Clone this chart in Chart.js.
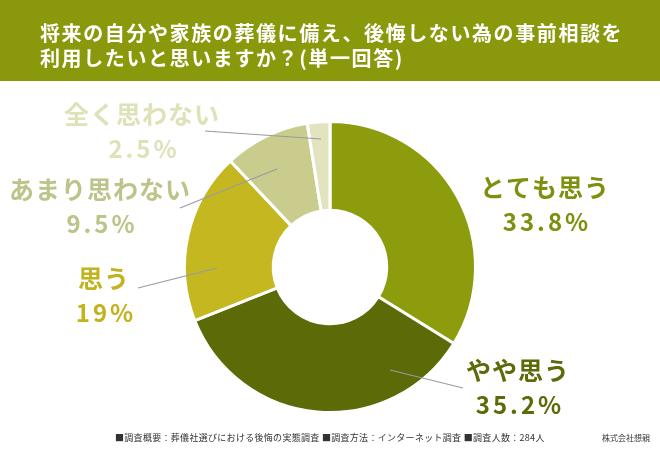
<!DOCTYPE html>
<html>
<head>
<meta charset="utf-8">
<script src="https://cdn.jsdelivr.net/npm/chart.js@4"></script>
<style>
  html, body { margin: 0; padding: 0; background: #fff; }
  #wrap { width: 660px; height: 450px; position: relative; }
</style>
</head>
<body>
<div id="wrap"><canvas id="myChart" width="660" height="450"></canvas></div>
<script>
// 回答の選択肢
let answers = ['とても思う', 'やや思う', '思う', 'あまり思わない', '全く思わない'];
// 割合 (%)
let shares = [33.8, 35.2, 19, 9.5, 2.5];
// 扇形の色
let sliceColors = ['#8c9c0c', '#5c6a08', '#c5b71f', '#c9cc8c', '#e2e4bf'];
// ラベル文字の色
let labelColors = ['#7f8f0e', '#5c6a08', '#c2b21e', '#bdc389', '#dfe1b9'];

let titleLines = ['将来の自分や家族の葬儀に備え、後悔しない為の事前相談を', '利用したいと思いますか？(単一回答)'];
let footNote = '■調査概要：葬儀社選びにおける後悔の実態調査 ■調査方法：インターネット調査 ■調査人数：284人';
let company = '株式会社想親';

// ラベルの位置と引き出し線 (文字の中心, 線の始点, 線の終点)
let labelLayout = [
  { x: 545, y: 187, line: null },
  { x: 518, y: 370, line: [463, 388, 390, 370] },
  { x: 104, y: 278, line: [138, 288, 217, 268] },
  { x: 100, y: 189, line: [180, 208, 277, 169] },
  { x: 142, y: 114, line: [205, 131, 321, 139] }
];

const FONT = '"Noto Sans CJK JP", "Noto Sans", sans-serif';

let decor = {
  id: 'decor',
  beforeDraw(chart) {
    let ctx = chart.ctx;
    ctx.save();
    // 見出しの帯
    ctx.fillStyle = '#8a990b';
    ctx.fillRect(0, 0, chart.width, 81);
    ctx.fillStyle = '#ffffff';
    ctx.font = 'bold 20px ' + FONT;
    ctx.letterSpacing = '1.6px';
    ctx.textBaseline = 'middle';
    ctx.textAlign = 'left';
    ctx.fillText(titleLines[0], 40, 33);
    ctx.fillText(titleLines[1], 40, 58);
    ctx.restore();
  },
  afterDraw(chart) {
    let ctx = chart.ctx;
    ctx.save();
    // 引き出し線
    ctx.strokeStyle = '#9a9aa6';
    ctx.lineWidth = 1.2;
    labelLayout.forEach(l => {
      if (!l.line) return;
      ctx.beginPath();
      ctx.moveTo(l.line[0], l.line[1]);
      ctx.lineTo(l.line[2], l.line[3]);
      ctx.stroke();
    });
    // ラベル
    ctx.textAlign = 'center';
    ctx.textBaseline = 'middle';
    answers.forEach((a, i) => {
      let l = labelLayout[i];
      ctx.fillStyle = labelColors[i];
      ctx.font = 'bold 25px ' + FONT;
      ctx.letterSpacing = '1px';
      ctx.fillText(a, l.x, l.y);
      ctx.font = 'bold 24px ' + FONT;
      ctx.letterSpacing = '3px';
      ctx.fillText(shares[i] + '%', l.x + 2, l.y + 35);
    });
    // 注記
    ctx.letterSpacing = '0.3px';
    ctx.fillStyle = '#333333';
    ctx.font = '9px ' + FONT;
    ctx.textAlign = 'left';
    ctx.fillText(footNote, 115, 438);
    ctx.letterSpacing = '0px';
    ctx.font = '8px ' + FONT;
    ctx.textAlign = 'right';
    ctx.fillText(company, 650, 438);
    ctx.restore();
  }
};

let myChart1 = document.getElementById('myChart').getContext('2d');

let chart1 = new Chart(myChart1, {
  type: 'doughnut',
  data: {
    labels: answers,
    datasets: [{
      data: shares,
      backgroundColor: sliceColors,
      borderColor: '#ffffff',
      borderWidth: 3
    }]
  },
  options: {
    responsive: false,
    animation: false,
    cutout: '39%',
    layout: { padding: { top: 120, bottom: 36, left: 0, right: 0 } },
    plugins: {
      legend: { display: false },
      tooltip: { enabled: false }
    }
  },
  plugins: [decor]
});
</script>
</body>
</html>
